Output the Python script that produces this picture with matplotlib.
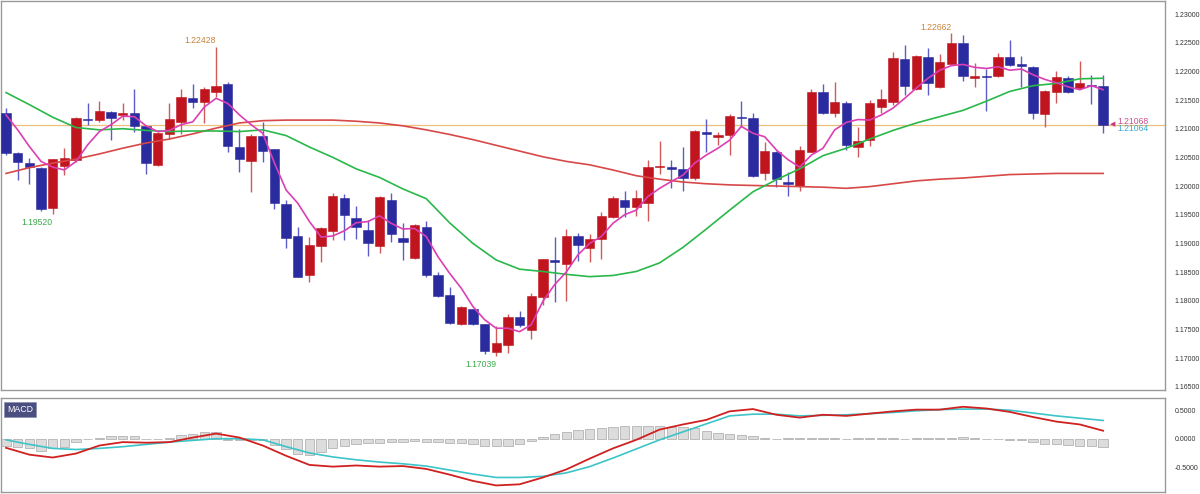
import numpy as np
import matplotlib.pyplot as plt
from matplotlib import font_manager

plt.rcParams['font.family'] = ['Liberation Sans', 'DejaVu Sans']

# daily candles (index 0..94)
opens = [1.21268, 1.20571, 1.20408, 1.20310, 1.19612, 1.20350, 1.20455, 1.21175, 1.21152, 1.21297,
         1.21239, 1.21280, 1.21047, 1.20368, 1.20908, 1.21123, 1.21530, 1.21460, 1.21646, 1.21774,
         1.20687, 1.20437, 1.20873, 1.20640, 1.19681, 1.19135, 1.18449, 1.18955, 1.19222, 1.19797,
         1.19449, 1.19234, 1.18955, 1.19757, 1.19088, 1.18752, 1.19292, 1.18449, 1.18101, 1.17595,
         1.17857, 1.17595, 1.17113, 1.17229, 1.17723, 1.17491, 1.18060, 1.18711, 1.18635, 1.19129,
         1.18915, 1.19072, 1.19455, 1.19757, 1.19641, 1.19711, 1.20327, 1.20327, 1.20292, 1.20135,
         1.20937, 1.20861, 1.20890, 1.21210, 1.21181, 1.20222, 1.20600, 1.20071, 1.20001, 1.20600,
         1.21646, 1.21268, 1.21442, 1.20688, 1.20804, 1.21373, 1.21472, 1.22216, 1.21693, 1.22245,
         1.21733, 1.22123, 1.22489, 1.21879, 1.21919, 1.21919, 1.22256, 1.22129, 1.22082, 1.21251,
         1.21635, 1.21890, 1.21705, 1.21762, 1.21745]
highs = [1.21355, 1.20590, 1.20484, 1.20327, 1.20480, 1.20658, 1.21210, 1.21443, 1.21489, 1.21300,
         1.21443, 1.21687, 1.21050, 1.20950, 1.21443, 1.21692, 1.21779, 1.21733, 1.22428, 1.21820,
         1.20989, 1.20908, 1.21123, 1.20650, 1.19757, 1.19292, 1.19118, 1.19292, 1.19884, 1.19855,
         1.19652, 1.19408, 1.19826, 1.19873, 1.19350, 1.19330, 1.19391, 1.18507, 1.18246, 1.17900,
         1.17860, 1.17600, 1.17560, 1.17764, 1.17828, 1.18130, 1.18730, 1.19118, 1.19251, 1.19187,
         1.19165, 1.19554, 1.19833, 1.19914, 1.19932, 1.20455, 1.20786, 1.20455, 1.20687, 1.20978,
         1.21163, 1.20948, 1.21251, 1.21489, 1.21268, 1.20763, 1.20610, 1.20251, 1.20704, 1.21692,
         1.21779, 1.21808, 1.21489, 1.21035, 1.21501, 1.21693, 1.22332, 1.22460, 1.22285, 1.22402,
         1.22303, 1.22662, 1.22634, 1.22152, 1.22036, 1.22314, 1.22547, 1.22268, 1.22090, 1.21670,
         1.22012, 1.21919, 1.22187, 1.21937, 1.21937]
lows = [1.20542, 1.20106, 1.20036, 1.19572, 1.19520, 1.20193, 1.20426, 1.21065, 1.21123, 1.20803,
        1.21152, 1.20949, 1.20205, 1.20350, 1.20821, 1.20908, 1.21355, 1.21094, 1.21559, 1.20600,
        1.20251, 1.19891, 1.20414, 1.19601, 1.18914, 1.18409, 1.18333, 1.18670, 1.19059, 1.19059,
        1.19077, 1.18786, 1.18827, 1.19030, 1.18711, 1.18728, 1.18409, 1.18072, 1.17595, 1.17578,
        1.17578, 1.17067, 1.17039, 1.17084, 1.17549, 1.17334, 1.17926, 1.17983, 1.17995, 1.18700,
        1.18683, 1.18729, 1.19450, 1.19455, 1.19479, 1.19397, 1.20205, 1.19972, 1.19920, 1.20106,
        1.20600, 1.20716, 1.20542, 1.21035, 1.20152, 1.20106, 1.19978, 1.19833, 1.19920, 1.20590,
        1.21260, 1.21210, 1.20629, 1.20513, 1.20699, 1.21269, 1.21414, 1.21588, 1.21675, 1.21588,
        1.21704, 1.22120, 1.21838, 1.21733, 1.21315, 1.21908, 1.22100, 1.21733, 1.21170, 1.21035,
        1.21455, 1.21629, 1.21700, 1.21431, 1.20920]
closes = [1.20583, 1.20426, 1.20339, 1.19601, 1.20472, 1.20495, 1.21193, 1.21152, 1.21315, 1.21181,
          1.21268, 1.21053, 1.20397, 1.20920, 1.21164, 1.21547, 1.21472, 1.21692, 1.21745, 1.20705,
          1.20478, 1.20873, 1.20618, 1.19711, 1.19100, 1.18420, 1.18972, 1.19263, 1.19826, 1.19495,
          1.19292, 1.19001, 1.19803, 1.19164, 1.19030, 1.19321, 1.18449, 1.18083, 1.17607, 1.17897,
          1.17595, 1.17130, 1.17258, 1.17723, 1.17578, 1.18089, 1.18722, 1.18682, 1.19129, 1.18972,
          1.19078, 1.19479, 1.19798, 1.19641, 1.19798, 1.20338, 1.20350, 1.20303, 1.20135, 1.20966,
          1.20908, 1.20890, 1.21227, 1.21192, 1.20182, 1.20617, 1.20123, 1.20031, 1.20629, 1.21634,
          1.21268, 1.21471, 1.20716, 1.20786, 1.21455, 1.21518, 1.22239, 1.21751, 1.22268, 1.21791,
          1.22158, 1.22489, 1.21925, 1.21919, 1.21896, 1.22256, 1.22111, 1.22099, 1.21269, 1.21658,
          1.21896, 1.21635, 1.21791, 1.21745, 1.21068]

# short moving average, one value per candle
ma_short = [1.2124, 1.2098, 1.2069, 1.2043, 1.2033, 1.2028, 1.2043, 1.2072, 1.2095, 1.2107,
            1.2122, 1.2121, 1.2105, 1.2095, 1.2097, 1.2107, 1.2112, 1.2138, 1.2153, 1.2144,
            1.2124, 1.2107, 1.2092, 1.2040, 1.1993, 1.1970, 1.1938, 1.1911, 1.1913, 1.1922,
            1.1936, 1.1938, 1.1948, 1.1935, 1.1925, 1.1926, 1.1912, 1.1877, 1.1848, 1.1822,
            1.1790, 1.1767, 1.1752, 1.1752, 1.1746, 1.1758, 1.1799, 1.1828, 1.1850, 1.1880,
            1.1900, 1.1912, 1.1935, 1.1950, 1.1958, 1.1982, 1.1996, 1.2008, 1.2019, 1.2040,
            1.2054, 1.2066, 1.2080, 1.2104, 1.2092, 1.2086, 1.2063, 1.2046, 1.2033, 1.2054,
            1.2066, 1.2098, 1.2111, 1.2116, 1.2115, 1.2124, 1.2136, 1.2153, 1.2171, 1.2188,
            1.2202, 1.2210, 1.2212, 1.2207, 1.2205, 1.2208, 1.2202, 1.2204, 1.2194, 1.2186,
            1.2180, 1.2173, 1.2168, 1.2175, 1.2168]

# slower lines, read every second candle
sample_idx = list(range(0, 95, 2))
ma_mid = [1.2163, 1.2142, 1.2120, 1.2102, 1.2098, 1.2100, 1.2097, 1.2095, 1.2096, 1.2096,
          1.2095, 1.2098, 1.2088, 1.2068, 1.2050, 1.2030, 1.2015, 1.1995, 1.1978, 1.1936,
          1.1900, 1.1871, 1.1855, 1.1851, 1.1846, 1.1842, 1.1844, 1.1851, 1.1866, 1.1893,
          1.1925, 1.1958, 1.1990, 1.2011, 1.2030, 1.2053, 1.2066, 1.2082, 1.2097, 1.2110,
          1.2121, 1.2132, 1.2148, 1.2165, 1.2175, 1.2179, 1.2187, 1.2188]
ma_long = [1.2022, 1.2032, 1.2040, 1.2047, 1.2056, 1.2066, 1.2075, 1.2082, 1.2091, 1.2101,
           1.2110, 1.2114, 1.2115, 1.2115, 1.2115, 1.2113, 1.2110, 1.2105, 1.2098, 1.2090,
           1.2081, 1.2071, 1.2061, 1.2051, 1.2043, 1.2037, 1.2028, 1.2018, 1.2012, 1.2007,
           1.2004, 1.2002, 1.2001, 1.2000, 1.1999, 1.1998, 1.1996, 1.1999, 1.2004, 1.2009,
           1.2012, 1.2014, 1.2017, 1.2020, 1.2021, 1.2022, 1.2022, 1.2022]
macd = [-0.16, -0.28, -0.33, -0.26, -0.12, -0.06, -0.07, -0.06, 0.02, 0.09,
        0.02, -0.12, -0.30, -0.46, -0.49, -0.47, -0.49, -0.48, -0.53, -0.63,
        -0.74, -0.82, -0.80, -0.68, -0.54, -0.35, -0.17, -0.02, 0.16, 0.25,
        0.33, 0.48, 0.52, 0.42, 0.37, 0.42, 0.40, 0.44, 0.48, 0.51,
        0.51, 0.56, 0.53, 0.47, 0.38, 0.30, 0.25, 0.14]
signal = [-0.02, -0.10, -0.17, -0.19, -0.17, -0.14, -0.10, -0.06, -0.03, 0.0,
          0.0, -0.02, -0.14, -0.25, -0.32, -0.37, -0.41, -0.44, -0.48, -0.55,
          -0.62, -0.68, -0.68, -0.66, -0.60, -0.49, -0.34, -0.18, -0.02, 0.12,
          0.26, 0.40, 0.43, 0.43, 0.40, 0.41, 0.42, 0.44, 0.46, 0.49,
          0.51, 0.52, 0.52, 0.50, 0.45, 0.40, 0.36, 0.32]
hist = [-0.12, -0.15, -0.17, -0.22, -0.17, -0.14, -0.05, -0.01, 0.02, 0.04,
        0.05, 0.05, 0.0, 0.0, 0.02, 0.06, 0.08, 0.11, 0.11, -0.03,
        -0.03, -0.03, -0.03, -0.11, -0.18, -0.27, -0.28, -0.24, -0.17, -0.12,
        -0.10, -0.08, -0.08, -0.06, -0.05, -0.04, -0.05, -0.06, -0.07, -0.08,
        -0.10, -0.12, -0.13, -0.12, -0.10, -0.04, 0.03, 0.08, 0.12, 0.15,
        0.17, 0.19, 0.21, 0.22, 0.22, 0.23, 0.22, 0.21, 0.20, 0.18,
        0.14, 0.10, 0.08, 0.06, 0.04, 0.01, -0.01, 0.01, 0.02, 0.01,
        0.02, 0.01, 0.0, 0.01, 0.02, 0.02, 0.01, 0.0, 0.01, 0.02,
        0.01, 0.02, 0.03, 0.02, 0.0, -0.01, -0.02, -0.03, -0.06, -0.09,
        -0.10, -0.11, -0.12, -0.12, -0.14]

bid, ask = 1.21068, 1.21064

o = np.array(opens)
h = np.array(highs)
l = np.array(lows)
c = np.array(closes)
x = np.arange(len(o))
up = c >= o

red = '#c0141e'
blue = '#2b2ba0'
body_col = np.where(up, red, blue)
wick_col = np.where(up, '#d05a5a', '#5c5cc8')

# narrow font for the price scale if present
names = {f.name for f in font_manager.fontManager.ttflist}
if 'Liberation Sans Narrow' in names:
    tick_family, tick_size = 'Liberation Sans Narrow', 6.0
else:
    tick_family, tick_size = 'Liberation Sans', 5.0

fig = plt.figure(figsize=(12, 4.94), dpi=100)
ax = fig.add_axes([1/1200, 104/494, 1164/1200, 389/494])
ax2 = fig.add_axes([1/1200, 2/494, 1164/1200, 94/494])

ax.axhline(bid, color='#ecc27a', lw=0.9, zorder=1)
ax.vlines(x, l, h, colors=wick_col, lw=1.0, zorder=2)
ax.bar(x, np.maximum(np.abs(c - o), 0.00005), bottom=np.minimum(o, c), width=0.8,
       color=body_col, edgecolor=body_col, lw=0.4, zorder=3)

ax.plot(sample_idx, ma_long, color='#d84848', lw=1.2, zorder=4)
ax.plot(sample_idx, ma_mid, color='#2ab84a', lw=1.2, zorder=4)
ax.plot(x, ma_short, color='#dc3fb4', lw=1.2, zorder=5)

# high / low markers
lab_font = dict(fontsize=6.2, family=['Liberation Sans', 'DejaVu Sans'])
ih = int(np.argmax(h[:40]))
ax.annotate(f'{h[ih]:.5f}', (x[ih], h[ih]), xytext=(0, 1), textcoords='offset points',
            ha='right', va='bottom', color='#c8843c', **lab_font)
ih2 = int(np.argmax(h))
ax.annotate(f'{h[ih2]:.5f}', (x[ih2], h[ih2]), xytext=(0, 1), textcoords='offset points',
            ha='right', va='bottom', color='#c8843c', **lab_font)
il = int(np.argmin(l[:20]))
ax.annotate(f'{l[il]:.5f}', (x[il], l[il]), xytext=(0, -3), textcoords='offset points',
            ha='right', va='top', color='#3aa84a', **lab_font)
il2 = int(np.argmin(l))
ax.annotate(f'{l[il2]:.5f}', (x[il2], l[il2]), xytext=(0, -3), textcoords='offset points',
            ha='right', va='top', color='#3aa84a', **lab_font)

ax.annotate('◀', (x[-1], bid), xytext=(5, 0.5), textcoords='offset points',
            ha='left', va='center', color='#cc3a7a', fontsize=5, family='DejaVu Sans')
ax.annotate(f'{bid:.5f}', (x[-1], bid), xytext=(10, 2.6), textcoords='offset points',
            ha='left', va='center', color='#c8508a', **lab_font)
ax.annotate(f'{ask:.5f}', (x[-1], bid), xytext=(10, -2.6), textcoords='offset points',
            ha='left', va='center', color='#3aa8d0', **lab_font)

ax.set_xlim(-0.43, 99.3)
ax.set_ylim(1.16443, 1.23227)
ax.set_xticks([])
ax.yaxis.tick_right()
ticks = np.arange(1.165, 1.2301, 0.005)
ax.set_yticks(ticks)
ax.set_yticklabels([f'{v:.5f}' for v in ticks], family=tick_family)
ax.tick_params(axis='y', length=0, pad=7, labelsize=tick_size, labelcolor='#333333')

# MACD panel
ax2.bar(x, hist, width=0.8, color='#dcdcdc', edgecolor='#a8a8a8', lw=0.5, zorder=1)
ax2.plot(sample_idx, signal, color='#3cc4c8', lw=1.2, zorder=2)
ax2.plot(sample_idx, macd, color='#d02020', lw=1.3, zorder=3)
ax2.set_xlim(-0.43, 99.3)
ax2.set_ylim(-0.935, 0.714)
ax2.set_xticks([])
ax2.yaxis.tick_right()
ax2.set_yticks([0.5, 0.0, -0.5])
ax2.set_yticklabels(['0.5000', '0.0000', '-0.5000'], family=tick_family)
ax2.tick_params(axis='y', length=0, pad=7, labelsize=tick_size, labelcolor='#333333')
ax2.text(0.005, 0.88, 'MACD', transform=ax2.transAxes, ha='left', va='center', color='white',
         fontsize=6.3, bbox=dict(boxstyle='square,pad=0.35', fc='#4b4f80', ec='#8a8db0', lw=0.5))

for a in (ax, ax2):
    for s in a.spines.values():
        s.set_color('#9a9a9a')
        s.set_linewidth(1.0)

fig.savefig('out.png', dpi=100, facecolor='white')
